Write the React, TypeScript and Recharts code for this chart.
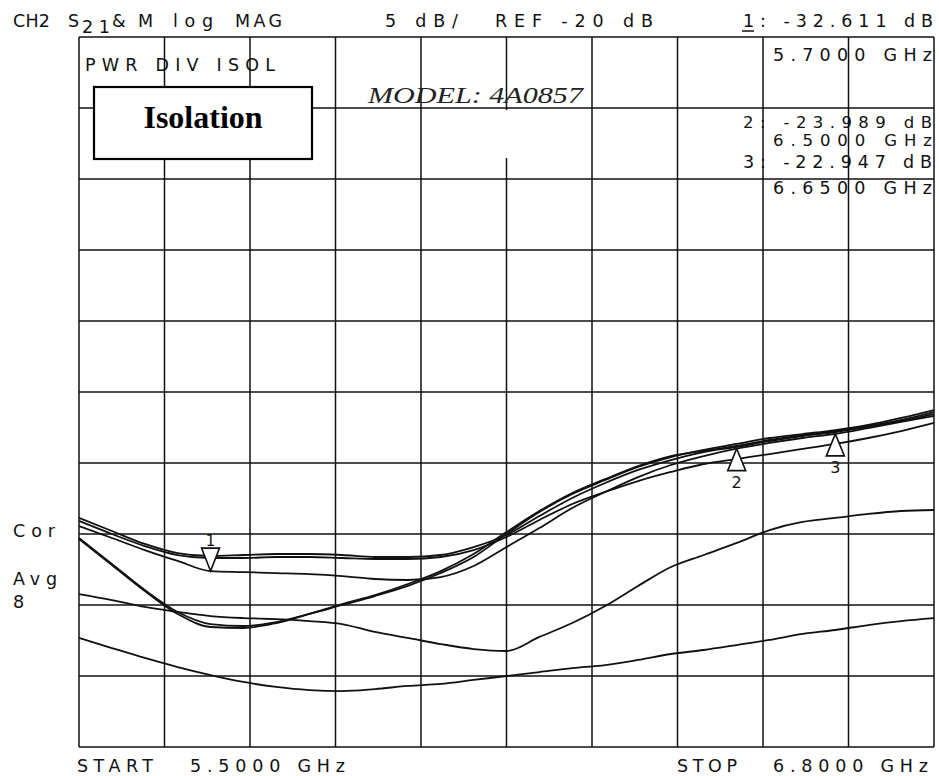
import React from "react";
import { LineChart, Line, XAxis, YAxis, CartesianGrid, ReferenceDot } from "recharts";

// frequency sweep points (GHz)
const freqs = [
  5.5, 5.55, 5.6, 5.65, 5.7, 5.75, 5.8, 5.85, 5.9, 5.95, 6.0, 6.05, 6.1, 6.15,
  6.2, 6.25, 6.3, 6.35, 6.4, 6.45, 6.5, 6.55, 6.6, 6.65, 6.7, 6.75, 6.8,
];

// isolation traces, dB
const traceA1 = [
  -28.87, -29.79, -30.7, -31.34, -31.55, -31.48, -31.41, -31.41, -31.48, -31.62, -31.62, -31.48, -30.92, -30.07,
  -28.73, -27.46, -26.41, -25.49, -24.79, -24.23, -23.87, -23.45, -23.1, -22.82, -22.46, -22.04, -21.55,
];
const traceA2 = [
  -29.08, -30.0, -30.85, -31.48, -31.69, -31.69, -31.62, -31.62, -31.69, -31.76, -31.76, -31.62, -31.13, -30.21,
  -29.01, -27.89, -27.04, -26.27, -25.63, -25.07, -24.72, -24.37, -24.01, -23.66, -23.24, -22.75, -22.18,
];
const traceB = [
  -29.44, -30.28, -31.13, -31.9, -32.611, -32.68, -32.75, -32.82, -32.96, -33.17, -33.24, -33.03, -32.25, -30.92,
  -29.58, -28.17, -27.04, -25.99, -25.14, -24.51, -23.989, -23.59, -23.24, -22.947, -22.54, -22.11, -21.69,
];
const traceD1 = [
  -30.28, -32.11, -33.94, -35.49, -36.34, -36.48, -36.2, -35.63, -35.0, -34.37, -33.66, -32.75, -31.62, -30.0,
  -28.45, -27.18, -26.2, -25.28, -24.58, -24.08, -23.66, -23.24, -22.96, -22.68, -22.32, -21.83, -21.27,
];
const traceD2 = [
  -30.35, -32.18, -34.01, -35.63, -36.55, -36.62, -36.27, -35.63, -34.93, -34.3, -33.52, -32.61, -31.41, -29.86,
  -28.38, -27.11, -26.13, -25.21, -24.51, -24.15, -23.8, -23.38, -23.03, -22.75, -22.39, -21.97, -21.41,
];
const traceE = [
  -34.23, -34.65, -35.14, -35.49, -35.78, -35.92, -35.99, -36.13, -36.34, -36.9, -37.32, -37.75, -38.1, -38.24,
  -37.25, -36.27, -35.07, -33.66, -32.32, -31.48, -30.63, -29.72, -29.15, -28.87, -28.59, -28.38, -28.31,
];
const traceF = [
  -37.32, -38.03, -38.73, -39.37, -39.93, -40.42, -40.77, -40.99, -41.06, -40.92, -40.7, -40.56, -40.28, -40.0,
  -39.72, -39.44, -39.23, -38.87, -38.45, -38.17, -37.82, -37.46, -37.04, -36.76, -36.41, -36.13, -35.92,
];

const freqTicks = [5.5, 5.63, 5.76, 5.89, 6.02, 6.15, 6.28, 6.41, 6.54, 6.67, 6.8];
const dbTicks = [-45, -40, -35, -30, -25, -20, -15, -10, -5, 0, 5];

const markers = [
  { id: "1", freq: 5.7, db: -32.611, dir: "down" },
  { id: "2", freq: 6.5, db: -23.989, dir: "up" },
  { id: "3", freq: 6.65, db: -22.947, dir: "up" },
];

const traces = [
  { key: "a1", values: traceA1 },
  { key: "a2", values: traceA2 },
  { key: "b", values: traceB },
  { key: "d1", values: traceD1 },
  { key: "d2", values: traceD2 },
  { key: "e", values: traceE },
  { key: "f", values: traceF },
];

const data = freqs.map((f, i) => {
  const row: Record<string, number> = { freq: f };
  traces.forEach((t) => {
    row[t.key] = t.values[i];
  });
  return row;
});

const PLOT_FONT = "'DejaVu Sans', sans-serif";

function T({ x, y, len, children, size = 17.5 }: any) {
  return (
    <text
      x={x}
      y={y}
      fontFamily={PLOT_FONT}
      fontSize={size}
      fill="#111"
      textLength={len}
      lengthAdjust="spacing"
    >
      {children}
    </text>
  );
}

function MarkerShape(props: any) {
  const { cx, cy, id, dir } = props;
  if (cx == null || cy == null) return null;
  if (dir === "down") {
    return (
      <g>
        <path
          d={`M${cx},${cy} L${cx - 9},${cy - 23} L${cx + 9},${cy - 23} Z`}
          fill="#fff"
          stroke="#111"
          strokeWidth={1.6}
        />
        <text x={cx} y={cy - 25} textAnchor="middle" fontFamily={PLOT_FONT} fontSize={15} fill="#111">
          {id}
        </text>
      </g>
    );
  }
  return (
    <g>
      <path
        d={`M${cx},${cy} L${cx - 9},${cy + 22} L${cx + 9},${cy + 22} Z`}
        fill="#fff"
        stroke="#111"
        strokeWidth={1.6}
      />
      <text x={cx} y={cy + 39} textAnchor="middle" fontFamily={PLOT_FONT} fontSize={16} fill="#111">
        {id}
      </text>
    </g>
  );
}

export default function App() {
  return (
    <div style={{ position: "absolute", left: 0, top: 0, width: 939, height: 776, background: "#fff" }}>
      <LineChart width={939} height={776} data={data} margin={{ top: 37, left: 79, right: 5, bottom: 29 }}>
        <XAxis dataKey="freq" type="number" domain={[5.5, 6.8]} ticks={freqTicks} hide />
        <YAxis type="number" domain={[-45, 5]} ticks={dbTicks} hide />
        <CartesianGrid stroke="#111" strokeWidth={1.5} />
        {traces.map((t) => (
          <Line
            key={t.key}
            dataKey={t.key}
            type="monotone"
            stroke="#111"
            strokeWidth={1.8}
            dot={false}
            isAnimationActive={false}
          />
        ))}
        {markers.map((m) => (
          <ReferenceDot
            key={m.id}
            x={m.freq}
            y={m.db}
            r={0}
            shape={(p: any) => <MarkerShape {...p} id={m.id} dir={m.dir} />}
          />
        ))}
      </LineChart>
      <svg
        width={939}
        height={776}
        style={{ position: "absolute", left: 0, top: 0, pointerEvents: "none" }}
      >
        <rect x={504} y={110} width={6} height={48} fill="#fff" />
        <T x={13} y={27} len={37}>CH2</T>
        <T x={68} y={27}>S</T>
        <T x={82} y={33} len={28}>21</T>
        <T x={112} y={27} len={41}>&amp;M</T>
        <T x={173} y={27} len={40}>log</T>
        <T x={235} y={27} len={47}>MAG</T>
        <T x={385} y={27} len={73}>5 dB/</T>
        <T x={495} y={27} len={158}>REF -20 dB</T>
        <T x={743} y={27} len={190}>1: -32.611 dB</T>
        <line x1={742} y1={31} x2={754} y2={31} stroke="#111" strokeWidth={1.5} />
        <T x={85} y={71} len={190}>PWR DIV ISOL</T>
        <T x={773} y={61} len={159}>5.7000 GHz</T>
        <T x={743} y={128} len={189} size={16.5}>2: -23.989 dB</T>
        <T x={773} y={146} len={159} size={16.5}>6.5000 GHz</T>
        <T x={743} y={168} len={189}>3: -22.947 dB</T>
        <T x={773} y={194} len={159}>6.6500 GHz</T>
        <T x={13} y={537} len={42}>Cor</T>
        <T x={13} y={585} len={44}>Avg</T>
        <T x={13} y={608}>8</T>
        <T x={77} y={772} len={76}>START</T>
        <T x={190} y={772} len={155}>5.5000 GHz</T>
        <T x={677} y={772} len={60}>STOP</T>
        <T x={773} y={772} len={155}>6.8000 GHz</T>
        <text
          x={368}
          y={103}
          fontFamily="'Liberation Serif', serif"
          fontStyle="italic"
          fontSize={24}
          fill="#222"
          textLength={215}
          lengthAdjust="spacingAndGlyphs"
        >
          MODEL: 4A0857
        </text>
        <rect x={94} y={87} width={218} height={72} fill="#fff" stroke="#000" strokeWidth={2.2} />
        <text
          x={203}
          y={128}
          textAnchor="middle"
          fontFamily="'Liberation Serif', 'Times New Roman', serif"
          fontWeight="bold"
          fontSize={32}
          fill="#000"
        >
          Isolation
        </text>
      </svg>
    </div>
  );
}
